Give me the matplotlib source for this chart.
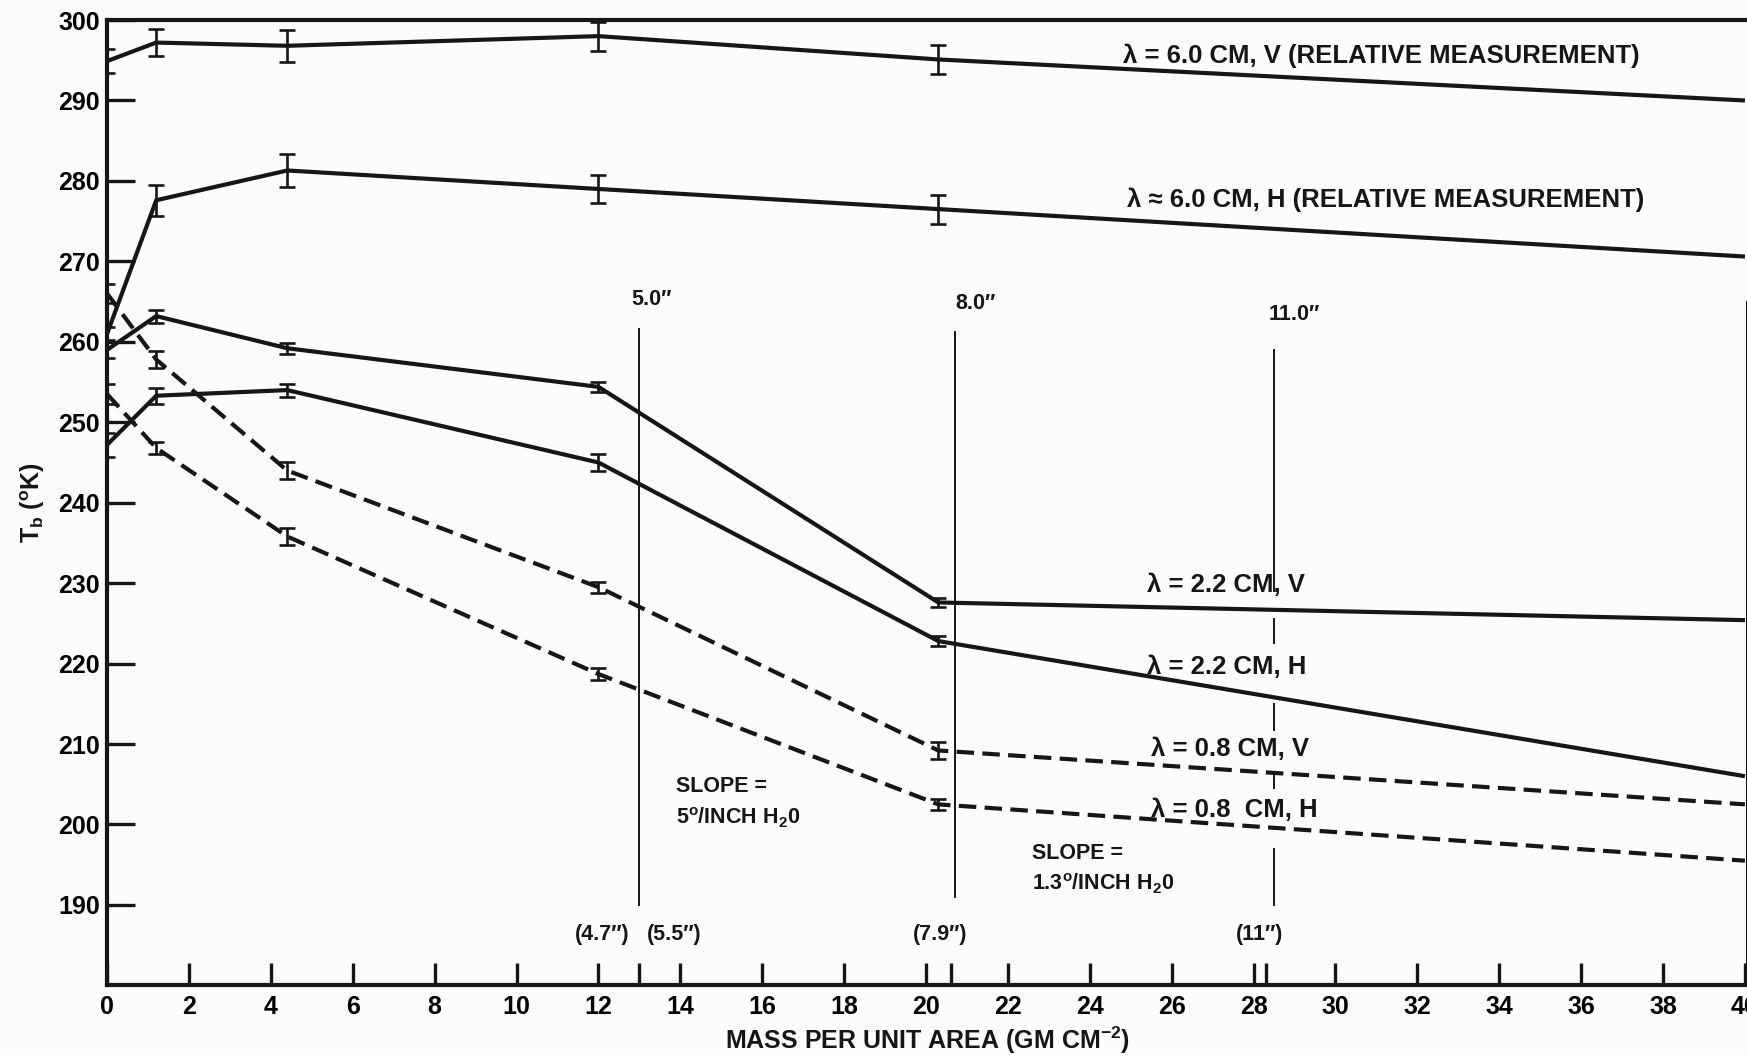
import matplotlib
matplotlib.use("Agg")
import matplotlib.pyplot as plt
from matplotlib import font_manager

# measured positions (GM CM^-2) and brightness temperatures (K)
X_MEAS = [0.0, 1.2, 4.4, 12.0, 20.3]
X_END = 40.0

TB_60V = [294.9, 297.2, 296.8, 298.0, 295.1]
TB_60V_END = 290.0
ERR_60V = [1.5, 1.7, 2.0, 1.8, 1.8]

TB_60H = [261.0, 277.6, 281.3, 279.0, 276.5]
TB_60H_END = 270.6
ERR_60H = [0.8, 1.9, 2.0, 1.7, 1.8]

TB_22V = [259.0, 263.2, 259.2, 254.4, 227.6]
TB_22V_END = 225.4
ERR_22V = [1.0, 0.8, 0.7, 0.6, 0.6]

TB_22H = [247.2, 253.3, 254.0, 245.0, 222.8]
TB_22H_END = 206.0
ERR_22H = [1.5, 1.0, 0.8, 1.0, 0.6]

TB_08V = [266.0, 257.8, 244.0, 229.5, 209.2]
TB_08V_END = 202.5
ERR_08V = [1.2, 1.0, 1.0, 0.7, 1.0]

TB_08H = [253.5, 246.8, 235.8, 218.7, 202.5]
TB_08H_END = 195.5
ERR_08H = [1.2, 0.8, 1.0, 0.7, 0.7]

SERIES_LABELS = [
    "\u03bb = 6.0 CM, V (RELATIVE MEASUREMENT)",
    "\u03bb \u2248 6.0 CM, H (RELATIVE MEASUREMENT)",
    "\u03bb = 2.2 CM, V",
    "\u03bb = 2.2 CM, H",
    "\u03bb = 0.8 CM, V",
    "\u03bb = 0.8  CM, H",
]
LABEL_POS = [(24.8, 295.6), (24.9, 277.6), (25.4, 229.8), (25.4, 219.6), (25.5, 209.4), (25.5, 201.8)]

# depth markers (inches of water)
DEPTH_X = [13.0, 20.7, 28.5]
DEPTH_LABELS = ["5.0\u2033", "8.0\u2033", "11.0\u2033"]
DEPTH_LABEL_POS = [(13.3, 265.2), (21.2, 264.8), (29.0, 263.4)]
DEPTH_SEGMENTS = [
    [(190.0, 261.6)],
    [(191.0, 261.2)],
    [(229.0, 259.0), (222.5, 225.5), (211.7, 215.0), (204.5, 206.5), (190.0, 197.0)],
]
PAREN_LABELS = ["(4.7\u2033)", "(5.5\u2033)", "(7.9\u2033)", "(11\u2033)"]
PAREN_X = [12.1, 13.85, 20.35, 28.15]
MINOR_X = [13.0, 20.6, 28.3]

X_TICKS = list(range(0, 41, 2))
Y_TICKS = list(range(190, 301, 10))

INK = "#161616"
PAPER = "#fcfcfc"


def pick_font(*names):
    installed = {f.name for f in font_manager.fontManager.ttflist}
    for name in names:
        if name in installed:
            return name
    return "DejaVu Sans"


MAIN_FONT = pick_font("Liberation Sans", "Arial")
NARROW_FONT = pick_font("Liberation Sans Narrow", "Liberation Sans")

plt.rcParams["font.family"] = [MAIN_FONT, "DejaVu Sans"]
plt.rcParams["font.weight"] = "bold"
plt.rcParams["mathtext.default"] = "bf"
plt.rcParams["mathtext.fontset"] = "custom"
plt.rcParams["mathtext.bf"] = f"{MAIN_FONT}:bold"

fig = plt.figure(figsize=(17.47, 10.55), dpi=100, facecolor=PAPER)
ax = fig.add_axes([0.0613, 0.066, 0.9387, 0.915])
ax.set_facecolor(PAPER)

series = [
    (TB_60V, TB_60V_END, ERR_60V, "-"),
    (TB_60H, TB_60H_END, ERR_60H, "-"),
    (TB_22V, TB_22V_END, ERR_22V, "-"),
    (TB_22H, TB_22H_END, ERR_22H, "-"),
    (TB_08V, TB_08V_END, ERR_08V, "--"),
    (TB_08H, TB_08H_END, ERR_08H, "--"),
]
for values, end_value, errors, style in series:
    xs = X_MEAS + [X_END]
    ys = values + [end_value]
    line, = ax.plot(xs, ys, color=INK, lw=3.0, ls=style, solid_capstyle="butt")
    if style == "--":
        line.set_dashes((4.2, 2.0))
    ax.errorbar(X_MEAS, values, yerr=errors, fmt="none", ecolor=INK,
                elinewidth=1.9, capsize=5.5, capthick=1.9)

for label, (lx, ly) in zip(SERIES_LABELS, LABEL_POS):
    ax.text(lx, ly, label, fontsize=18.5, fontweight="bold", color=INK,
            ha="left", va="center")

for xpos, segments in zip(DEPTH_X, DEPTH_SEGMENTS):
    for y0, y1 in segments:
        ax.plot([xpos, xpos], [y0, y1], color=INK, lw=1.4)

small_family = [NARROW_FONT, "DejaVu Sans"]
for label, (lx, ly) in zip(DEPTH_LABELS, DEPTH_LABEL_POS):
    ax.text(lx, ly, label, fontsize=15.5, fontweight="bold", color=INK,
            family=small_family, ha="center", va="center")

for label, lx in zip(PAREN_LABELS, PAREN_X):
    ax.text(lx, 186.3, label, fontsize=15.5, fontweight="bold", color=INK,
            family=small_family, ha="center", va="center")

slope_text = [
    (13.9, 204.7, "SLOPE ="),
    (13.9, 200.8, "5$^{o}$/INCH H$_{2}$0"),
    (22.6, 196.4, "SLOPE ="),
    (22.6, 192.6, "1.3$^{o}$/INCH H$_{2}$0"),
]
for lx, ly, label in slope_text:
    ax.text(lx, ly, label, fontsize=15.5, fontweight="bold", color=INK,
            family=small_family, ha="left", va="center")

ax.set_xlim(0, 40.05)
ax.set_ylim(180, 300)
ax.set_xticks(X_TICKS)
ax.set_xticks(MINOR_X, minor=True)
ax.set_yticks(Y_TICKS)
ax.tick_params(axis="x", which="both", direction="in", length=16, width=2.4,
               color=INK, labelsize=18, pad=7)
ax.tick_params(axis="y", direction="in", length=20, width=2.4, color=INK,
               labelsize=18, pad=5)
for tick_label in ax.get_xticklabels() + ax.get_yticklabels():
    tick_label.set_fontweight("bold")

for side in ["left", "bottom", "top"]:
    ax.spines[side].set_linewidth(3.0)
    ax.spines[side].set_color(INK)
ax.spines["right"].set_linewidth(2.2)
ax.spines["right"].set_color(INK)
ax.spines["right"].set_bounds(180, 265)

ax.set_xlabel("MASS PER UNIT AREA (GM CM$^{-2}$)", fontsize=18, fontweight="bold",
              color=INK, labelpad=4)
ax.set_ylabel("T$_{b}$ ($^{o}$K)", fontsize=18, fontweight="bold", color=INK, labelpad=8)

fig.savefig("out.png", dpi=100, facecolor=PAPER)
